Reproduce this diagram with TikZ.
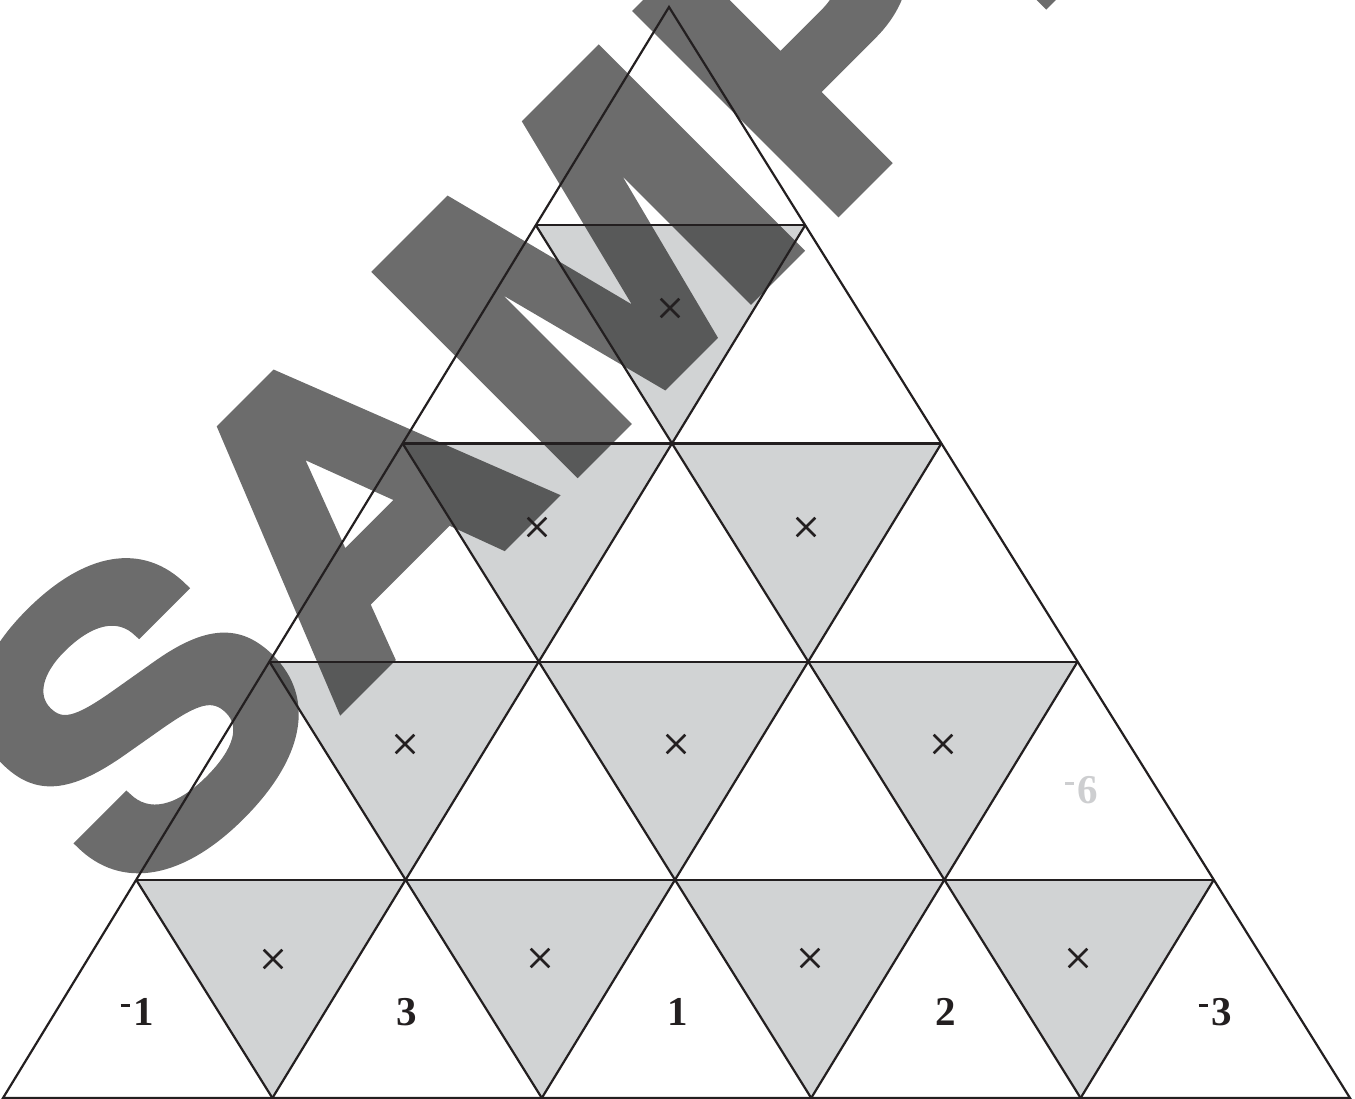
\documentclass[tikz,border=0pt]{standalone}
\usepackage{fontspec}
\newfontfamily\numfont{Liberation Serif}
\newfontfamily\wmfont{TeX Gyre Heros}[FakeBold=2.5]
\definecolor{tri}{RGB}{209,211,212}
\definecolor{ink}{RGB}{35,31,32}
\definecolor{wm}{RGB}{108,108,108}
\definecolor{faint}{RGB}{205,206,208}
\newcommand\negsign{\rule[18.3pt]{9pt}{2.7pt}\kern3.5pt}
\begin{document}
\begin{tikzpicture}[x=1pt,y=-1pt,
  gridline/.style={draw=ink, line width=2.2pt},
  cell/.style={fill=tri},
  xmark/.style={draw=ink, line width=2.6pt},
  numlabel/.style={font=\numfont\bfseries\fontsize{41}{41}\selectfont, text=ink, inner sep=0pt, anchor=base},
  wmtext/.style={font=\wmfont\bfseries\fontsize{387}{387}\selectfont, color=wm, inner sep=0pt}]
\useasboundingbox (0,0) rectangle (1355,1098);
% lattice points
\foreach \k in {0,...,5}{
  \foreach \j in {0,...,\k}{
    \coordinate (p-\k-\j) at ({669-133.2*\k+269.4*\j},{7+218.2*\k});
  }
}
% grey inverted cells
\foreach \k in {1,...,4}{
  \foreach \i in {1,...,\k}{
    \pgfmathtruncatemacro\im{\i-1}
    \pgfmathtruncatemacro\kp{\k+1}
    \fill[cell] (p-\k-\im) -- (p-\k-\i) -- (p-\kp-\i) -- cycle;
  }
}
% watermark
\begin{scope}
  \clip (0,0) rectangle (1355,1098);
  \begin{scope}[blend mode=multiply]
    \begin{scope}[transparency group]
      \begin{scope}[blend mode=normal]
        \node[wmtext, rotate=45, anchor=base west] (wm) at (133.5,915.5) {\scalebox{1.131}[1]{SAMPLE}};
      \end{scope}
    \end{scope}
  \end{scope}
\end{scope}
% grid lines
\draw[gridline] (p-0-0) -- (p-5-0) -- (p-5-5) -- cycle;
\foreach \k in {1,...,4}{ \draw[gridline] (p-\k-0) -- (p-\k-\k); }
\foreach \m in {1,...,4}{
  \pgfmathtruncatemacro\r{5-\m}
  \draw[gridline] (p-\m-\m) -- (p-5-\m);
  \draw[gridline] (p-\m-0) -- (p-5-\r);
}
% cross marks
\coordinate (x1) at (670,308);
\coordinate (x2a) at (537,527);
\coordinate (x2b) at (806,527);
\coordinate (x3a) at (405,744);
\coordinate (x3b) at (676,744);
\coordinate (x3c) at (943,744);
\coordinate (x4a) at (273,959);
\coordinate (x4b) at (540,958);
\coordinate (x4c) at (810,958);
\coordinate (x4d) at (1078,958);
\foreach \c in {x1,x2a,x2b,x3a,x3b,x3c,x4a,x4b,x4c,x4d}{
  \draw[xmark] (\c) +(-9.3,-9.3) -- +(9.3,9.3) +(-9.3,9.3) -- +(9.3,-9.3);
}
% numbers
\node[numlabel] (n1) at (137.2,1025) {\negsign 1};
\node[numlabel] (n2) at (406.6,1025) {3};
\node[numlabel] (n3) at (678,1025) {1};
\node[numlabel] (n4) at (945.4,1025) {2};
\node[numlabel] (n5) at (1215,1025) {\negsign 3};
\node[numlabel, text=faint] (n6) at (1081.5,803) {\negsign 6};
\end{tikzpicture}
\end{document}
